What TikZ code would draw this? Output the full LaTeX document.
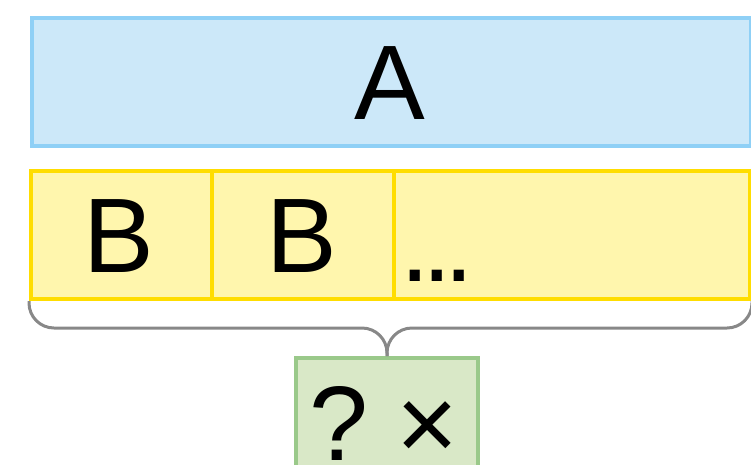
\documentclass[tikz,border=0pt]{standalone}
\usepackage{fontspec}
\setmainfont{Liberation Sans}
\usetikzlibrary{calc}
\definecolor{bluefill}{RGB}{204,232,249}
\definecolor{blueline}{RGB}{143,208,246}
\definecolor{yelfill}{RGB}{255,246,173}
\definecolor{yelline}{RGB}{255,221,0}
\definecolor{grnfill}{RGB}{217,232,199}
\definecolor{grnline}{RGB}{154,201,138}
\definecolor{bracegray}{RGB}{136,136,136}
\tikzset{
  box/.style={line width=4pt, inner sep=0pt, anchor=north west},
  bluebox/.style={box, draw=blueline, fill=bluefill},
  yelbox/.style={box, draw=yelline, fill=yelfill},
  grnbox/.style={box, draw=grnline, fill=grnfill},
  bigtext/.style={font=\fontsize{106}{106}\selectfont, inner sep=0pt, anchor=base},
  bracepath/.style={draw=bracegray, line width=3pt, rounded corners=25pt}
}
\begin{document}
\begin{tikzpicture}[x=1pt,y=-1pt]
\useasboundingbox (0,0) rectangle (751,464);
\node[bluebox, minimum width=719pt, minimum height=128pt] (A) at (30,16) {};
\node[yelbox, minimum width=181pt, minimum height=128pt] (B1) at (29,169) {};
\node[yelbox, minimum width=182pt, minimum height=128pt] (B2) at (210,169) {};
\node[yelbox, minimum width=356pt, minimum height=128pt] (C) at (392,169) {};
\node[grnbox, minimum width=182pt, minimum height=160pt] (G) at (294,356) {};
\node[bigtext] (tA) at (390,119) {A};
\node[bigtext] (tB1) at (119,272) {B};
\node[bigtext] (tB2) at (302,272) {B};
\node[bigtext, anchor=base west] (tC) at (400,281) {.\kern-7.5pt.\kern-7.5pt.};
\node[bigtext] (tG) at (384,460) {? \hspace{-11.5pt}×};
\draw[bracepath] (B1.south west) |- ($(G.north)+(0,-28)$) -- (G.north);
\draw[bracepath] (C.south east) |- ($(G.north)+(0,-28)$) -- (G.north);
\end{tikzpicture}
\end{document}
